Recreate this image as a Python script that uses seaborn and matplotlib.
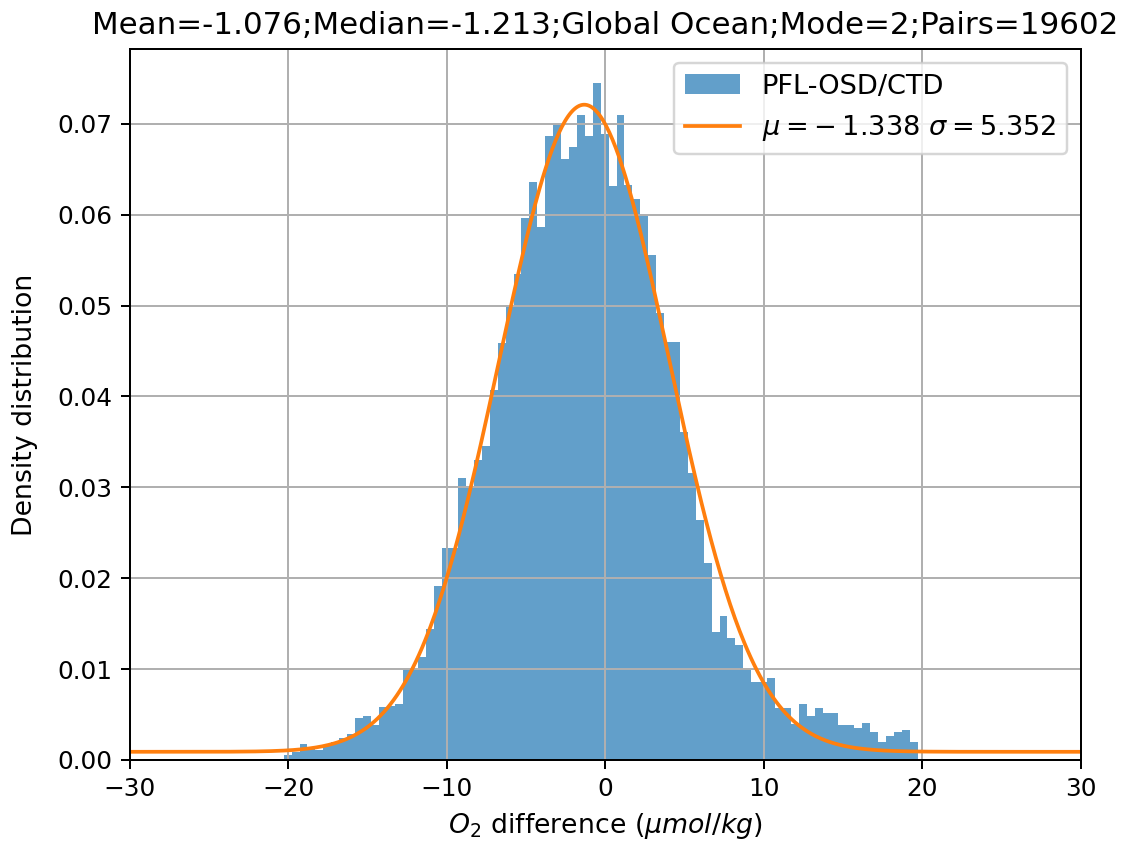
import numpy as np
import pandas as pd
import seaborn as sns
import matplotlib
matplotlib.use("Agg")
import matplotlib.pyplot as plt

# histogram of O2 differences (density per 0.5 umol/kg bin, first bin starts at -20.3)
bin_start = -20.3
bin_width = 0.5
density = [
    0.0005, 0.0009, 0.0018, 0.0012, 0.0011, 0.0015, 0.0020, 0.0024, 0.0029, 0.0046,
    0.0048, 0.0038, 0.0058, 0.0059, 0.0062, 0.0099, 0.0099, 0.0113, 0.0144, 0.0191,
    0.0233, 0.0233, 0.0310, 0.0301, 0.0330, 0.0345, 0.0407, 0.0459, 0.0499, 0.0535,
    0.0596, 0.0636, 0.0586, 0.0686, 0.0700, 0.0661, 0.0674, 0.0710, 0.0687, 0.0745,
    0.0689, 0.0632, 0.0710, 0.0633, 0.0617, 0.0601, 0.0556, 0.0492, 0.0460, 0.0460,
    0.0361, 0.0316, 0.0264, 0.0217, 0.0141, 0.0158, 0.0134, 0.0127, 0.0099, 0.0086,
    0.0086, 0.0090, 0.0057, 0.0057, 0.0040, 0.0062, 0.0048, 0.0057, 0.0052, 0.0052,
    0.0039, 0.0038, 0.0035, 0.0041, 0.0031, 0.0020, 0.0026, 0.0031, 0.0033, 0.0020,
]

# gaussian fit shown as the orange line
fit_mu = -1.338
fit_sigma = 5.352
fit_amp = 0.0712
fit_offset = 0.0009

title = "Mean=-1.076;Median=-1.213;Global Ocean;Mode=2;Pairs=19602"
hist_label = "PFL-OSD/CTD"
fit_label = r"$\mu=-\:1.338$ $\sigma=5.352$"

edges = bin_start + bin_width * np.arange(len(density) + 1)
hist_df = pd.DataFrame({"diff": (edges[:-1] + edges[1:]) / 2, "dens": density})

xfit = np.linspace(-30, 30, 600)
fit_df = pd.DataFrame({
    "x": xfit,
    "y": fit_offset + fit_amp * np.exp(-(xfit - fit_mu) ** 2 / (2 * fit_sigma ** 2)),
})

dpi = 178.6
fig = plt.figure(figsize=(1143 / dpi, 848 / dpi), dpi=dpi)
ax = fig.add_axes([0.1137, 0.1038, 0.8320, 0.8384])

sns.histplot(data=hist_df, x="diff", weights="dens", bins=list(edges), stat="count",
             color="C0", alpha=0.7, linewidth=0, label=hist_label, ax=ax)
sns.lineplot(data=fit_df, x="x", y="y", color="C1", linewidth=1.5, label=fit_label, ax=ax)

ax.set_xlim(-30, 30)
ax.grid(True)
ax.set_title(title, fontsize=12.5)
ax.set_xlabel(r"$O_2$ difference ($\mu mol/kg$)", fontsize=10.8)
ax.set_ylabel("Density distribution", fontsize=10.8, labelpad=8)

handles, labels = ax.get_legend_handles_labels()
order = [labels.index(hist_label), labels.index(fit_label)]
ax.legend([handles[i] for i in order], [labels[i] for i in order],
          loc="upper right", fontsize=11)

fig.savefig("out.png", dpi=dpi)
